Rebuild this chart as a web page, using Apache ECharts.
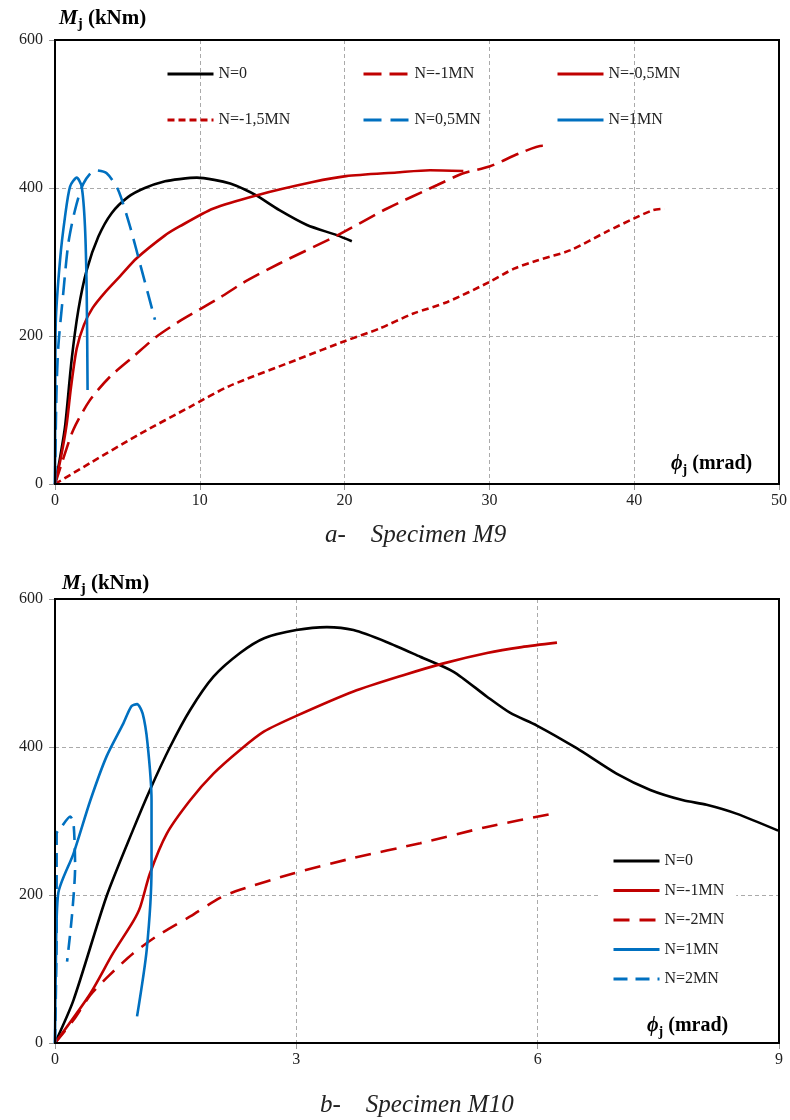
<!DOCTYPE html>
<html><head><meta charset="utf-8">
<script src="https://cdn.jsdelivr.net/npm/echarts@6/dist/echarts.min.js"></script>
<style>html,body{margin:0;padding:0;background:#fff}#c{width:790px;height:1120px}</style>
</head><body><div id="c"></div>
<script>
// ---- Specimen M9 : [phi_j (mrad), M_j (kNm)] ----
const m9_N0 = [[0,0],[0.3,30],[0.69,77],[1.15,168],[1.61,235],[2.19,289],[2.99,334],[3.91,366],[5.06,388],[6.2,400],[7.6,409],[8.6,412],[9.8,414],[11,411],[12.1,406],[13.1,398],[13.9,390],[15.5,370],[17.4,350],[19.5,336],[20.5,328]];
const m9_Nm1 = [[0,0],[0.5,30],[1.26,73],[2.4,113],[3.8,145],[5.4,172],[7.0,199],[8.6,220],[10,236],[11.4,252],[13,272],[15.5,298],[19.5,336],[22.9,372],[26.4,404],[28.2,420],[30.0,429],[32.1,447],[33.7,457],[34.0,457]];
const m9_Nm05 = [[0,0],[0.4,35],[0.8,80],[1.1,130],[1.5,183],[2.0,215],[2.6,238],[3.5,260],[4.5,281],[5.64,305],[7.6,336],[8.6,348],[10.9,372],[13.9,390],[17.8,408],[20.1,416],[23.6,421],[25.9,424],[28.2,423]];
const m9_Nm15 = [[0,0],[2.4,28],[5.9,68],[9.3,104],[12,132],[16.7,168],[20,193],[22.4,210],[24.7,230],[27.1,246],[30,273],[31.7,291],[33.3,302],[35.6,316],[38.1,341],[40,359],[41.3,370],[42.1,372]];
const m9_N05 = [[0,0],[0.1,123],[0.23,186],[0.57,258],[0.92,325],[1.38,370],[1.96,406],[2.76,424],[3.57,420],[4.37,397],[5.18,348],[5.99,289],[6.9,222]];
const m9_N1 = [[0,0],[0.02,120],[0.05,217],[0.35,303],[0.69,361],[1.04,402],[1.5,414],[1.84,402],[2.07,348],[2.19,258],[2.25,127]];

// ---- Specimen M10 ----
const m10_N0 = [[0,0],[0.23,58],[0.64,198],[0.97,288],[1.18,342],[1.43,400],[1.68,450],[1.97,495],[2.3,527],[2.6,547],[3.0,558],[3.38,562],[3.71,558],[4.12,542],[4.54,522],[4.95,502],[5.37,468],[5.66,446],[5.99,429],[6.49,398],[6.98,364],[7.4,342],[7.81,328],[8.1,322],[8.47,310],[8.99,287]];
const m10_Nm1 = [[0,0],[0.44,67],[0.72,121],[0.97,164],[1.06,184],[1.18,229],[1.39,283],[1.68,328],[1.97,364],[2.3,396],[2.6,421],[3.0,442],[3.71,475],[4.33,497],[4.83,513],[5.37,527],[5.8,535],[6.24,541]];
const m10_Nm2 = [[0,0],[0.23,31],[0.44,65],[0.68,92],[0.97,121],[1.26,144],[1.68,171],[2.05,196],[2.3,207],[2.96,229],[3.71,250],[4.54,270],[5.37,292],[6.24,311]];
const m10_N1 = [[0,0],[0.01,100],[0.04,202],[0.23,256],[0.44,328],[0.64,387],[0.85,432],[0.95,455],[1.02,458],[1.09,445],[1.15,405],[1.2,328],[1.2,238],[1.14,126],[1.02,36]];
const m10_N2 = [[0,0],[0.02,150],[0.02,283],[0.08,292],[0.19,306],[0.23,297],[0.25,238],[0.21,171],[0.15,110]];

// ---- axis ticks ----
const m9_xTicks = {min:0, max:50, interval:10};
const m10_xTicks = {min:0, max:9, interval:3};
const yTicks = {min:0, max:600, interval:200};

const SERIF = "'Liberation Serif','DejaVu Serif',serif";
const BLACK = '#000', RED = '#C00000', BLUE = '#0070C0';

function mkX(idx, t){
  return {type:'value', gridIndex:idx, min:t.min, max:t.max, interval:t.interval,
    axisLine:{show:true, lineStyle:{color:'#000', width:2}},
    axisTick:{show:true, length:6, lineStyle:{color:'#999'}},
    axisLabel:{fontFamily:SERIF, fontSize:16, color:'#222', margin:9},
    splitLine:{show:true, lineStyle:{type:[4,3], color:'#aaa', width:1}}};
}
function mkY(idx){
  return {type:'value', gridIndex:idx, min:yTicks.min, max:yTicks.max, interval:yTicks.interval,
    axisLine:{show:true, lineStyle:{color:'#000', width:2}},
    axisTick:{show:true, length:6, lineStyle:{color:'#999'}},
    axisLabel:{fontFamily:SERIF, fontSize:16, color:'#222', margin:12},
    splitLine:{show:true, lineStyle:{type:[4,3], color:'#aaa', width:1}}};
}
function mkS(name, data, idx, color, dash){
  return {name:name, type:'line', xAxisIndex:idx, yAxisIndex:idx, data:data,
    symbol:'none', showSymbol:false, smooth:0.25, animation:false,
    lineStyle:{color:color, width:2.6, type:dash || 'solid'}, itemStyle:{color:color}};
}

const legText = {fontFamily:SERIF, fontSize:16, color:'#222', lineHeight:16};
const legBase = {orient:'vertical', itemWidth:46, itemHeight:16, textStyle:legText,
  formatter:n => n.trim(), itemStyle:{opacity:0, borderWidth:0}, lineStyle:{width:3}};

const axisNameRich = {
  m:{fontFamily:SERIF, fontSize:21, fontWeight:'bold', fontStyle:'italic', color:'#000'},
  j:{fontFamily:SERIF, fontSize:15, fontWeight:'bold', color:'#000', padding:[12,0,0,0]},
  b:{fontFamily:SERIF, fontSize:21, fontWeight:'bold', color:'#000'}
};
const phiRich = {
  m:{fontFamily:SERIF, fontSize:20, fontWeight:'bold', fontStyle:'italic', color:'#000'},
  j:{fontFamily:SERIF, fontSize:14, fontWeight:'bold', color:'#000', padding:[12,0,0,0]},
  b:{fontFamily:SERIF, fontSize:20, fontWeight:'bold', color:'#000'}
};

const chart = echarts.init(document.getElementById('c'), null, {renderer:'canvas'});
chart.setOption({
  backgroundColor:'#fff',
  animation:false,
  grid:[
    {left:55, right:11, top:40, height:444},
    {left:55, right:11, top:599, height:444}
  ],
  xAxis:[mkX(0, m9_xTicks), mkX(1, m10_xTicks)],
  yAxis:[mkY(0), mkY(1)],
  legend:[
    Object.assign({left:161, top:61, itemGap:30, data:['N=0','N=-1,5MN']}, legBase),
    Object.assign({left:357, top:61, itemGap:30, data:['N=-1MN','N=0,5MN']}, legBase),
    Object.assign({left:551, top:61, itemGap:30, data:['N=-0,5MN','N=1MN']}, legBase),
    Object.assign({left:598, top:847, itemGap:13.5, backgroundColor:'#fff', padding:[6,12,6,14],
      data:['N=0 ','N=-1MN ','N=-2MN ','N=1MN ','N=2MN ']}, legBase)
  ],
  series:[
    mkS('N=0', m9_N0, 0, BLACK),
    mkS('N=-1MN', m9_Nm1, 0, RED, [18,8]),
    mkS('N=-0,5MN', m9_Nm05, 0, RED),
    mkS('N=-1,5MN', m9_Nm15, 0, RED, [7,4]),
    mkS('N=0,5MN', m9_N05, 0, BLUE, [18,9]),
    mkS('N=1MN', m9_N1, 0, BLUE),
    mkS('N=0 ', m10_N0, 1, BLACK),
    mkS('N=-1MN ', m10_Nm1, 1, RED),
    mkS('N=-2MN ', m10_Nm2, 1, RED, [16,10]),
    mkS('N=1MN ', m10_N1, 1, BLUE),
    mkS('N=2MN ', m10_N2, 1, BLUE, [14,8])
  ],
  graphic:[
    {type:'rect', z:100, silent:true, shape:{x:55, y:40, width:724, height:444}, style:{fill:null, stroke:'#000', lineWidth:2}},
    {type:'rect', z:100, silent:true, shape:{x:55, y:599, width:724, height:444}, style:{fill:null, stroke:'#000', lineWidth:2}},
    {type:'text', left:59, top:8, style:{text:'{m|M}{j|j}{b| (kNm)}', rich:axisNameRich}},
    {type:'text', left:62, top:573, style:{text:'{m|M}{j|j}{b| (kNm)}', rich:axisNameRich}},
    {type:'text', left:671, top:454, style:{text:'{m|ϕ}{j|j}{b| (mrad)}', rich:phiRich}},
    {type:'text', left:647, top:1016, style:{text:'{m|ϕ}{j|j}{b| (mrad)}', rich:phiRich}},
    {type:'text', left:325, top:523, style:{text:'a-    Specimen M9', fontFamily:SERIF, fontSize:25, fontStyle:'italic', fill:'#222'}},
    {type:'text', left:320, top:1093, style:{text:'b-    Specimen M10', fontFamily:SERIF, fontSize:25, fontStyle:'italic', fill:'#222'}}
  ]
});
</script></body></html>
